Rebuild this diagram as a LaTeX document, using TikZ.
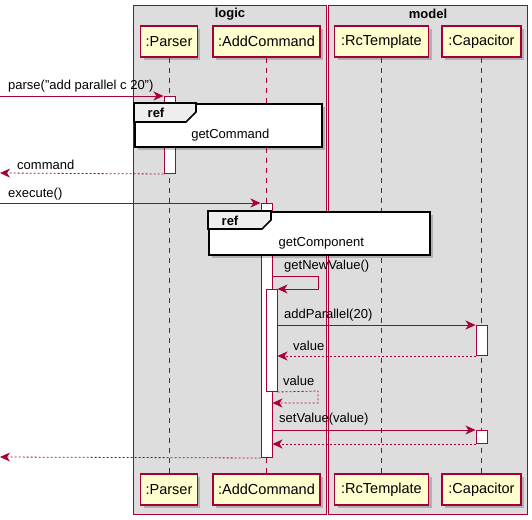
\documentclass[tikz,border=0pt]{standalone}
\usepackage{fontspec}
\setmainfont{Liberation Sans}
\usetikzlibrary{arrows.meta,shadows}
\definecolor{umlred}{HTML}{A80036}
\definecolor{partfill}{HTML}{FEFECE}
\definecolor{groupfill}{HTML}{DDDDDD}
\definecolor{tabfill}{HTML}{EEEEEE}
\tikzset{
  grp/.style={draw=umlred,fill=groupfill,line width=1pt},
  part/.style={draw=umlred,fill=partfill,line width=1.2pt,minimum height=31,inner xsep=5,
    font=\fontsize{14.5}{16}\selectfont,
    drop shadow={shadow xshift=3pt,shadow yshift=-3pt,fill=black,opacity=0.2}},
  life/.style={draw=umlred,line width=0.8pt,dash pattern=on 5pt off 5pt},
  act/.style={draw=umlred,fill=white,line width=1pt,minimum width=11,inner sep=0,anchor=north},
  refframe/.style={draw=black,fill=white,line width=1.6pt,anchor=north west,inner sep=0,
    drop shadow={shadow xshift=3pt,shadow yshift=-3pt,fill=black,opacity=0.2}},
  reftab/.style={draw=black,fill=tabfill,line width=1.6pt},
  msg/.style={draw=umlred,line width=0.8pt,-{Stealth[length=10pt,width=9pt,inset=3pt]}},
  ret/.style={msg,dash pattern=on 2pt off 2pt},
  lbl/.style={anchor=south west,inner sep=0}
}
\begin{document}
\begin{tikzpicture}[x=1pt,y=-1pt,font=\fontsize{13}{15}\selectfont]
  \useasboundingbox (0,0) rectangle (532,519);
  % boxes
  \draw[grp] (133,6) rectangle (326,514);
  \draw[grp] (328,6) rectangle (527,514);
  \node[font=\fontsize{13}{15}\selectfont\bfseries] (logicT) at (230,14) {logic};
  \node[font=\fontsize{13}{15}\selectfont\bfseries] (modelT) at (428,14) {model};

  % participants
  \node[part,minimum width=56] (parserTop) at (169,41.5) {:Parser};
  \node[part,minimum width=107] (addTop) at (266.5,41.5) {:AddCommand};
  \node[part,minimum width=94] (rcTop) at (381.5,41.5) {:RcTemplate};
  \node[part,minimum width=79] (capTop) at (481.5,41.5) {:Capacitor};
  \node[part,minimum width=56] (parserBot) at (169,489.5) {:Parser};
  \node[part,minimum width=107] (addBot) at (266.5,489.5) {:AddCommand};
  \node[part,minimum width=94] (rcBot) at (381.5,489.5) {:RcTemplate};
  \node[part,minimum width=79] (capBot) at (481.5,489.5) {:Capacitor};

  \draw[life] (parserTop) -- (parserBot);
  \draw[life] (addTop) -- (addBot);
  \draw[life] (rcTop) -- (rcBot);
  \draw[life] (capTop) -- (capBot);

  % activations
  \node[act,minimum height=77] (actP) at (169.5,96) {};
  \node[act,minimum height=254] (actA) at (266.5,203) {};
  \node[act,minimum height=102] (actN) at (271.5,289) {};
  \node[act,minimum height=30] (actC1) at (481.5,325) {};
  \node[act,minimum height=13] (actC2) at (481.5,430) {};

  % refs
  \node[refframe,minimum width=187,minimum height=43] (refCmd) at (134,103) {};
  \draw[reftab] (refCmd.north west) -- ++(62,0) -- ++(0,9) -- ++(-10,10) -- ++(-52,0) -- cycle;
  \node[font=\fontsize{13}{15}\selectfont\bfseries] at ([shift={(22,10)}]refCmd.north west) {ref};
  \node at ([shift={(2,10)}]refCmd.center) {getCommand};

  \node[refframe,minimum width=221,minimum height=43] (refComp) at (208,211) {};
  \draw[reftab] (refComp.north west) -- ++(63,0) -- ++(0,9) -- ++(-9,9) -- ++(-54,0) -- cycle;
  \node[font=\fontsize{13}{15}\selectfont\bfseries] at ([shift={(22,10)}]refComp.north west) {ref};
  \node at ([shift={(2,10)}]refComp.center) {getComponent};

  % messages
  \coordinate (inParse) at (0,96);
  \coordinate (outCmd) at (0,173);
  \coordinate (inExec) at (0,203);
  \coordinate (outExec) at (0,457);
  \draw[msg] (inParse) -- (actP.north west);
  \node[lbl] at ([shift={(8,-4)}]inParse) {parse("add parallel c 20")};
  \draw[ret] (actP.south west) -- (outCmd);
  \node[lbl] at ([shift={(17,-3)}]outCmd) {command};
  \draw[msg] (inExec) -- (actA.north west);
  \node[lbl] at ([shift={(8,-3)}]inExec) {execute()};

  \draw[msg] (actA.east |- 0,276) -- (318,276) -- (318,289) -- (actN.north east);
  \node[lbl] at (284,272) {getNewValue()};
  \draw[msg] (actN.east |- actC1.north) -- (actC1.north west);
  \node[lbl] at (284,321) {addParallel(20)};
  \draw[ret] (actC1.south west) -- (actN.east |- actC1.south);
  \node[lbl] at (293,351) {value};
  \draw[ret] (actN.south east) -- (318,391) -- (318,403) -- (actA.east |- 0,403);
  \node[lbl] at (283,386) {value};
  \draw[msg] (actA.east |- actC2.north) -- (actC2.north west);
  \node[lbl] at (279,425) {setValue(value)};
  \draw[ret] (actC2.south west) -- (actA.east |- actC2.south);
  \draw[ret] (actA.south west) -- (outExec);
\end{tikzpicture}
\end{document}
